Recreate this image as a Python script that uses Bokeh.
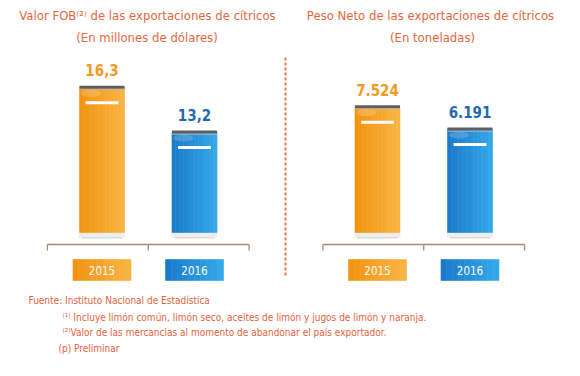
from bokeh.plotting import figure
from bokeh.models import Range1d
from bokeh.layouts import column, row
from bokeh.embed import file_html
from bokeh.resources import INLINE
from bokeh.core.properties import value

# ---------------- data ----------------
years = ["2015", "2016"]
fob_values = [16.3, 13.2]          # millones de dólares
fob_labels = ["16,3", "13,2"]
peso_values = [7524, 6191]         # toneladas
peso_labels = ["7.524", "6.191"]

title_fob = ["Valor FOB⁽²⁾ de las exportaciones de cítricos", "(En millones de dólares)"]
title_peso = ["Peso Neto de las exportaciones de cítricos", "(En toneladas)"]
footnotes = [
    "Fuente: Instituto Nacional de Estadística",
    "⁽¹⁾ Incluye limón común, limón seco, aceites de limón y jugos de limón y naranja.",
    "⁽²⁾Valor de las mercancias al momento de abandonar el país exportador.",
    "(p) Preliminar",
]

# ---------------- style ----------------
FONT = "DejaVu Sans Condensed, Liberation Sans Narrow, sans-serif"
TITLE_COLOR = "#E2683C"
NOTE_COLOR = "#E2613A"
BRACKET_COLOR = "#A68A74"
DIV_COLOR = "#E27452"
BAR_COLS = [("#F29410", "#F8B443"), ("#1B7BCB", "#33A7E7")]
LABEL_COLS = ["#F39A1E", "#1F6BAE"]
W, H = 290, 290
UNIT = 92.5            # px per category step
BAR_W = 45 / UNIT
BOX_W = 58 / UNIT


def lerp(c1, c2, t):
    a = [int(c1[i:i + 2], 16) for i in (1, 3, 5)]
    b = [int(c2[i:i + 2], 16) for i in (1, 3, 5)]
    return "#%02x%02x%02x" % tuple(round(a[k] + (b[k] - a[k]) * t) for k in range(3))


def gradient_rect(p, xs, cols, w, bottoms, tops, n=12, y_range_name="default"):
    sx, sb, st, sc = [], [], [], []
    for x, (c1, c2), b, t in zip(xs, cols, bottoms, tops):
        for i in range(n):
            sx.append(x - w / 2 + (i + 0.5) * w / n)
            sb.append(b)
            st.append(t)
            sc.append(lerp(c1, c2, i / (n - 1)))
    p.vbar(x=sx, width=w / n, bottom=sb, top=st, fill_color=sc, line_color=sc,
           line_width=0.6, y_range_name=y_range_name)


def panel(values, labels, left_px, y0, y1, base, titles, title_x, divider):
    xs = -left_px / UNIT
    p = figure(width=W, height=H, x_range=Range1d(xs, xs + W / UNIT),
               y_range=Range1d(y0, y1), output_backend="svg", toolbar_location=None,
               x_axis_location=None, y_axis_location=None, min_border=0,
               outline_line_color=None, background_fill_color="white",
               border_fill_color="white")
    p.grid.visible = False
    p.extra_y_ranges = {"px": Range1d(H, 0)}
    p.extra_x_ranges = {"px": Range1d(0, W)}
    dpp = (y1 - y0) / H
    cats = list(range(len(values)))

    # base shadow
    p.vbar(x=cats, width=BAR_W * 1.02, bottom=[base - 5 * dpp] * len(cats), top=[base] * len(cats),
           fill_color="#eeeeee", line_color=None)
    p.vbar(x=cats, width=BAR_W * 0.9, bottom=[base - 6 * dpp] * len(cats), top=[base - 4.5 * dpp] * len(cats),
           fill_color="#dadada", line_color=None)
    # bar body
    gradient_rect(p, cats, BAR_COLS, BAR_W, [base] * len(cats), values)
    # cap
    p.vbar(x=cats, width=BAR_W, bottom=[v - 1.5 * dpp for v in values], top=[v + 1.5 * dpp for v in values],
           fill_color="#5e5e5e", line_color=None)
    p.vbar(x=cats, width=BAR_W, bottom=[v - 3 * dpp for v in values], top=[v - 1.5 * dpp for v in values],
           fill_color="#bdbdbd", fill_alpha=0.6, line_color=None)
    # soft gloss
    p.ellipse(x=[c - BAR_W * 0.25 for c in cats], y=[v - 6 * dpp for v in values],
              width=BAR_W * 0.45, height=7, height_units="screen",
              fill_color="white", fill_alpha=0.18, line_color=None)
    # white highlight line
    p.vbar(x=cats, width=BAR_W * 0.73, bottom=[v - 17 * dpp for v in values],
           top=[v - 14 * dpp for v in values], fill_color="white", line_color=None)
    # value labels
    p.text(x=cats, y=values, text=labels, y_offset=-17, text_color=LABEL_COLS,
           text_font=value(FONT), text_font_size="15px", text_font_style="bold",
           text_align="center", text_baseline="middle")

    # bracket axis
    edges = [-0.59, 0.5, 1.59]
    p.segment(x0=[edges[0]], x1=[edges[-1]], y0=[244], y1=[244], line_color=BRACKET_COLOR,
              line_width=1.3, y_range_name="px")
    p.segment(x0=edges, x1=edges, y0=[244] * 3, y1=[250] * 3, line_color=BRACKET_COLOR,
              line_width=1.3, y_range_name="px")
    # category label boxes
    gradient_rect(p, cats, BAR_COLS, BOX_W, [259] * len(cats), [280] * len(cats), n=10,
                  y_range_name="px")
    p.text(x=cats, y=[269.5] * len(cats), text=years, y_range_name="px", text_color="white",
           text_font=value(FONT), text_font_size="11.5px", text_align="center",
           text_baseline="middle")

    # titles
    p.text(x=title_x, y=[15, 37], text=titles, x_range_name="px", y_range_name="px",
           text_color=TITLE_COLOR, text_font=value(FONT), text_font_size="13px",
           text_align="center", text_baseline="middle")
    if divider is not None:
        p.segment(x0=[divider], x1=[divider], y0=[57], y1=[275], x_range_name="px",
                  y_range_name="px", line_color=DIV_COLOR, line_width=2, line_dash="3 2")
    return p


p1 = panel(fob_values, fob_labels, 101.5, 2.276, 22.276, 6.276, title_fob, [147, 146.5], 285)
p2 = panel(peso_values, peso_labels, 87.0, -3473, 13892, 0, title_peso, [140, 142], None)

p3 = figure(width=580, height=86, x_range=Range1d(0, 580), y_range=Range1d(86, 0),
            output_backend="svg", toolbar_location=None, x_axis_location=None,
            y_axis_location=None, min_border=0, outline_line_color=None)
p3.grid.visible = False
p3.text(x=[28, 62, 62, 58], y=[10, 27, 42, 58], text=footnotes, text_color=NOTE_COLOR,
        text_font=value(FONT), text_font_size="10px", text_align="left",
        text_baseline="middle")

layout = column(row(p1, p2, spacing=0), p3, spacing=0)
open("out.html", "w").write(file_html(layout, INLINE))
